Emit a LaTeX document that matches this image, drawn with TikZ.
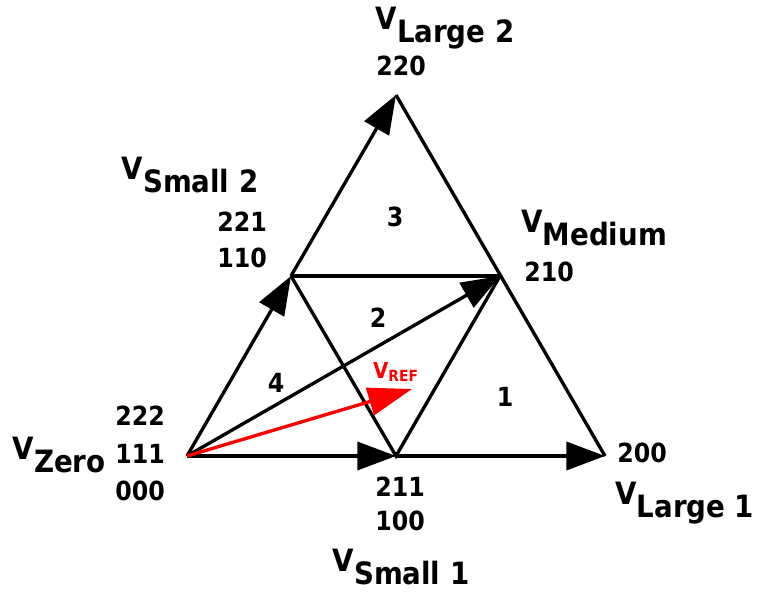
\documentclass[tikz,border=0pt]{standalone}
\usepackage{fontspec}
\setmainfont{DejaVu Sans Condensed}
\usetikzlibrary{arrows.meta}
\newcommand\vlab[1]{\raisebox{7pt}{V}#1}

\begin{document}
\begin{tikzpicture}[
        x=0.02cm, y=-0.02cm,
        side/.style={draw, line width=1.9pt},
        vec/.style={side, -{Triangle[length=22pt,width=16pt]}},
        refvec/.style={draw=red, line width=1.9pt, -{Triangle[length=25pt,width=16pt]}},
        vname/.style={font=\bfseries\fontsize{17.5}{20}\selectfont, inner sep=0pt},
        code/.style={font=\bfseries\fontsize{15}{17}\selectfont, inner sep=0pt},
        sector/.style={font=\bfseries\fontsize{15}{17}\selectfont, inner sep=0pt},
    ]
    \useasboundingbox (0,0) rectangle (758,595);
    % vertices of the hexagon sector
    \coordinate (zero) at (187,456);
    \coordinate (lone) at (605,456);
    \coordinate (ltwo) at (396,95);
    \coordinate (sone) at (396,456);
    \coordinate (stwo) at (291,276);
    \coordinate (med) at (500,276);
    \coordinate (ref) at (412,389);
    % triangle sides
    \draw[side] (lone) -- (ltwo);
    \draw[side] (stwo) -- (med);
    \draw[side] (stwo) -- (sone) -- (med);
    % space vectors
    \draw[vec] (sone) -- (lone);
    \draw[vec] (stwo) -- (ltwo);
    \draw[vec] (zero) -- (sone);
    \draw[vec] (zero) -- (stwo);
    \draw[vec] (zero) -- (med);
    \draw[refvec] (zero) -- (ref);
    % labels
    \node[vname, anchor=base east] (nzero) at (106,472) {\vlab{Zero}};
    \node[code] (c222) at (140,416) {222};
    \node[code] (c111) at (140,454) {111};
    \node[code] (c000) at (140,491) {000};
    \node[code] (c211) at (400,487) {211};
    \node[code] (c100) at (400,521) {100};
    \node[vname, anchor=base] (nsone) at (401,584) {\vlab{Small 1}};
    \node[code] (c200) at (642,453) {200};
    \node[vname, anchor=base west] (nlone) at (615,517) {\vlab{Large 1}};
    \node[code] (c220) at (401,66) {220};
    \node[vname, anchor=base] (nltwo) at (445,42) {\vlab{Large 2}};
    \node[vname, anchor=base] (nstwo) at (190,192) {\vlab{Small 2}};
    \node[code] (c221) at (242,222) {221};
    \node[code] (c110) at (242,258) {110};
    \node[vname, anchor=base west] (nmed) at (521,245) {\vlab{Medium}};
    \node[code] (c210) at (549,272) {210};
    \node[red, font=\bfseries\fontsize{12.5}{14}\selectfont, inner sep=0pt] (nref) at (396,372) {V\textsubscript{REF}};
    % sector numbers
    \node[sector] (s1) at (505,397) {1};
    \node[sector] (s2) at (378,318) {2};
    \node[sector] (s3) at (395,217) {3};
    \node[sector] (s4) at (276,383) {4};
\end{tikzpicture}
\end{document}
